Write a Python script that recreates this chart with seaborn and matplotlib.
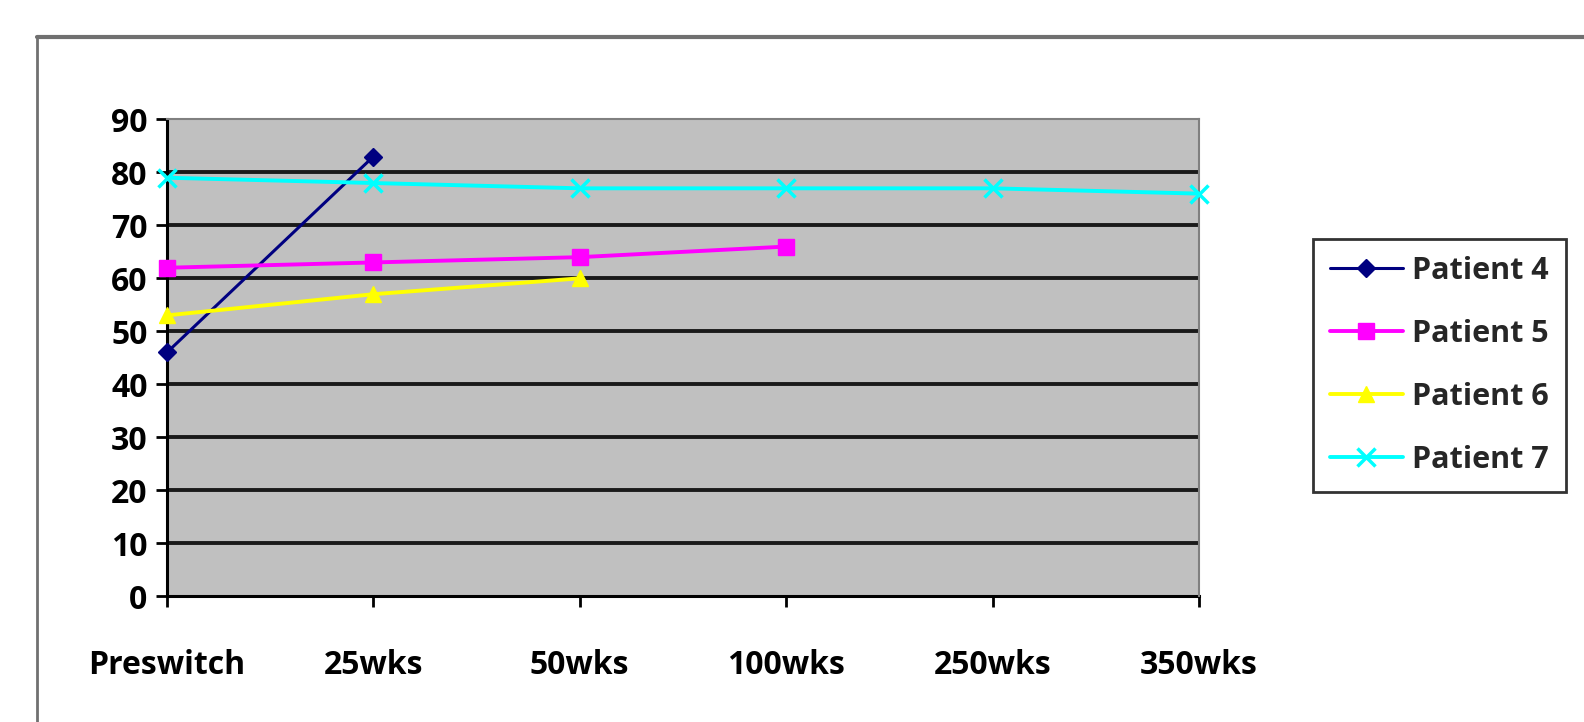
import matplotlib
matplotlib.use("Agg")
import matplotlib.pyplot as plt
from matplotlib.lines import Line2D
import seaborn as sns
import pandas as pd

categories = ["Preswitch", "25wks", "50wks", "100wks", "250wks", "350wks"]
patient4 = [46, 83]
patient5 = [62, 63, 64, 66]
patient6 = [53, 57, 60]
patient7 = [79, 78, 77, 77, 77, 76]
series_names = ["Patient 4", "Patient 5", "Patient 6", "Patient 7"]
y_ticks = [0, 10, 20, 30, 40, 50, 60, 70, 80, 90]

rows = []
for name, vals in zip(series_names, [patient4, patient5, patient6, patient7]):
    for i, v in enumerate(vals):
        rows.append({"visit": i, "score": v, "patient": name})
df = pd.DataFrame(rows)

sns.set_theme(style="white")
plt.rcParams["font.family"] = ["Open Sans", "DejaVu Sans"]
plt.rcParams["font.weight"] = "bold"

fig = plt.figure(figsize=(15.84, 7.22), dpi=100)
ax = fig.add_axes([0.1054, 0.1745, 0.6515, 0.660])
ax.set_facecolor("#C0C0C0")

palette = {"Patient 4": "#000080", "Patient 5": "#FF00FF",
           "Patient 6": "#FFFF00", "Patient 7": "#00FFFF"}
markers = {"Patient 4": "D", "Patient 5": "s", "Patient 6": "^", "Patient 7": "x"}
msizes = {"Patient 4": 9, "Patient 5": 12, "Patient 6": 12, "Patient 7": 13}

# horizontal gridlines under the data
for y in y_ticks[1:-1]:
    ax.axhline(y, color="#1a1a1a", lw=2.8, zorder=1)

for name in series_names:
    sub = df[df["patient"] == name]
    sns.lineplot(data=sub, x="visit", y="score", ax=ax, color=palette[name],
                 marker=markers[name], markersize=msizes[name],
                 markeredgecolor=palette[name],
                 markeredgewidth=2.5 if name == "Patient 7" else 1,
                 lw=2.2 if name == "Patient 4" else 2.8, label=name, zorder=3,
                 clip_on=False)

ax.set_xlim(0, len(categories) - 1)
ax.set_ylim(0, 90)
ax.set_yticks(y_ticks)
ax.set_xticks(range(len(categories)))
ax.set_xticklabels(categories)
ax.set_xlabel("")
ax.set_ylabel("")
ax.tick_params(axis="both", labelsize=23, colors="black", length=8, width=2,
               direction="out", bottom=True, left=True)
ax.tick_params(axis="x", pad=30)
ax.tick_params(axis="y", pad=6)
for lab in ax.get_xticklabels() + ax.get_yticklabels():
    lab.set_fontweight("bold")

for side in ["left", "bottom"]:
    ax.spines[side].set_color("black")
    ax.spines[side].set_linewidth(2.2)
    ax.spines[side].set_zorder(2)
for side in ["top", "right"]:
    ax.spines[side].set_color("#808080")
    ax.spines[side].set_linewidth(1.5)

if ax.get_legend():
    ax.get_legend().remove()
handles, labels = ax.get_legend_handles_labels()
leg = fig.legend(handles, labels, loc="upper left",
                 bbox_to_anchor=(1313 / 1584, 1 - 239 / 722),
                 frameon=True, fancybox=False, edgecolor="black",
                 prop={"size": 22, "weight": "bold"}, handlelength=2.4,
                 labelspacing=1.08, borderpad=0.55, handletextpad=0.3,
                 borderaxespad=0)
leg.get_frame().set_linewidth(2)

# outer chart frame (top and left edges)
fig.add_artist(Line2D([37 / 1584, 1.0], [1 - 37 / 722, 1 - 37 / 722],
                      color="#707070", lw=3, transform=fig.transFigure))
fig.add_artist(Line2D([37 / 1584, 37 / 1584], [0.0, 1 - 37 / 722],
                      color="#707070", lw=2, transform=fig.transFigure))

fig.savefig("out.png", dpi=100)
